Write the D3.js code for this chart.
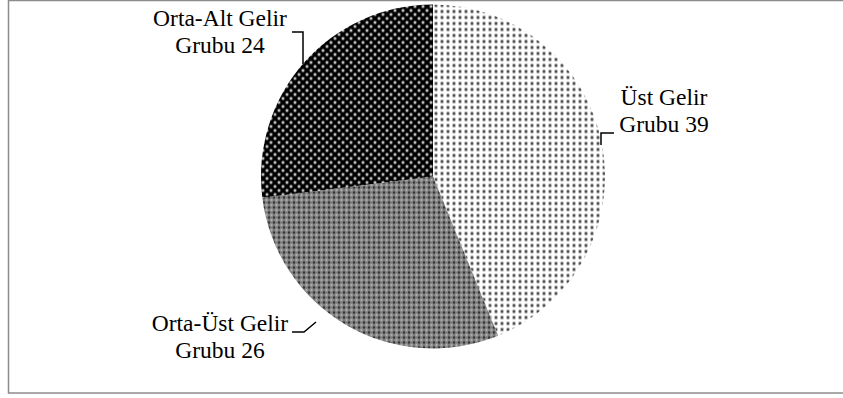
<!DOCTYPE html>
<html>
<head>
<meta charset="utf-8">
<script src="https://cdn.jsdelivr.net/npm/d3@7"></script>
<style>
  body { margin: 0; background: #fff; }
</style>
</head>
<body>
<div class="chart"></div>
<script>
const categories = ['Üst Gelir Grubu', 'Orta-Üst Gelir Grubu', 'Orta-Alt Gelir Grubu'];
const values = [39, 26, 24];
const labelLines = [['Üst Gelir', 'Grubu 39'], ['Orta-Üst Gelir', 'Grubu 26'], ['Orta-Alt Gelir', 'Grubu 24']];

function drawChart() {
  const w = 843;
  const h = 398;
  const cx = 433;
  const cy = 176.5;
  const r = 172;

  const svg = d3.select('.chart')
    .append('svg')
    .attr('width', w)
    .attr('height', h);

  const defs = svg.append('defs');

  // light dotted fill
  const p0 = defs.append('pattern').attr('id', 'pat0').attr('patternUnits', 'userSpaceOnUse')
    .attr('width', 6).attr('height', 6);
  p0.append('rect').attr('width', 6).attr('height', 6).attr('fill', '#fff');
  p0.append('circle').attr('cx', 3).attr('cy', 3).attr('r', 1.9).attr('fill', '#9a9a9a');
  p0.append('circle').attr('cx', 3).attr('cy', 3).attr('r', 1).attr('fill', '#333');

  // gray checkered fill
  const p1 = defs.append('pattern').attr('id', 'pat1').attr('patternUnits', 'userSpaceOnUse')
    .attr('width', 5).attr('height', 5);
  p1.append('rect').attr('width', 5).attr('height', 5).attr('fill', '#7a7a7a');
  p1.append('rect').attr('x', 0).attr('y', 0).attr('width', 2).attr('height', 2).attr('fill', '#333');
  p1.append('rect').attr('x', 2.5).attr('y', 2.5).attr('width', 2).attr('height', 2).attr('fill', '#bdbdbd');

  // dark dotted fill
  const p2 = defs.append('pattern').attr('id', 'pat2').attr('patternUnits', 'userSpaceOnUse')
    .attr('width', 8).attr('height', 8);
  p2.append('rect').attr('width', 8).attr('height', 8).attr('fill', '#000');
  [[2, 2], [6, 6]].forEach(([x, y]) => {
    p2.append('circle').attr('cx', x).attr('cy', y).attr('r', 1.8).attr('fill', '#777');
    p2.append('circle').attr('cx', x).attr('cy', y).attr('r', 0.9).attr('fill', '#eee');
  });

  svg.append('rect')
    .attr('x', 8.5)
    .attr('y', 0.5)
    .attr('width', 842)
    .attr('height', 392.5)
    .attr('fill', 'none')
    .attr('stroke', '#8c8c8c')
    .attr('stroke-width', 1.5);

  const pie = d3.pie().sort(null).value((d) => d);
  const arc = d3.arc().innerRadius(0).outerRadius(r);

  const g = svg.append('g').attr('transform', `translate(${cx}, ${cy})`);
  g.selectAll('path')
    .data(pie(values))
    .enter()
    .append('path')
    .attr('d', arc)
    .attr('fill', (d, i) => `url(#pat${i})`);

  // labels (anchor = centre of text block, baseline of first line)
  const labelPos = [
    { x: 664, y: 105, line: [[601, 145], [601, 133], [614, 133]] },
    { x: 220, y: 331, line: [[292, 332], [304, 332], [316, 322]] },
    { x: 220, y: 26, line: [[292, 32], [303, 32], [303, 64]] }
  ];

  labelPos.forEach((p, i) => {
    const t = svg.append('text')
      .attr('text-anchor', 'middle')
      .attr('font-family', '"Times New Roman", "Liberation Serif", Times, serif')
      .attr('font-size', 23.5)
      .attr('fill', '#000');
    labelLines[i].forEach((s, k) => {
      t.append('tspan').attr('x', p.x).attr('y', p.y + k * 27).text(s);
    });
    svg.append('path')
      .attr('d', d3.line()(p.line))
      .attr('fill', 'none')
      .attr('stroke', '#000')
      .attr('stroke-width', 1.5);
  });
}

drawChart();
</script>
</body>
</html>
